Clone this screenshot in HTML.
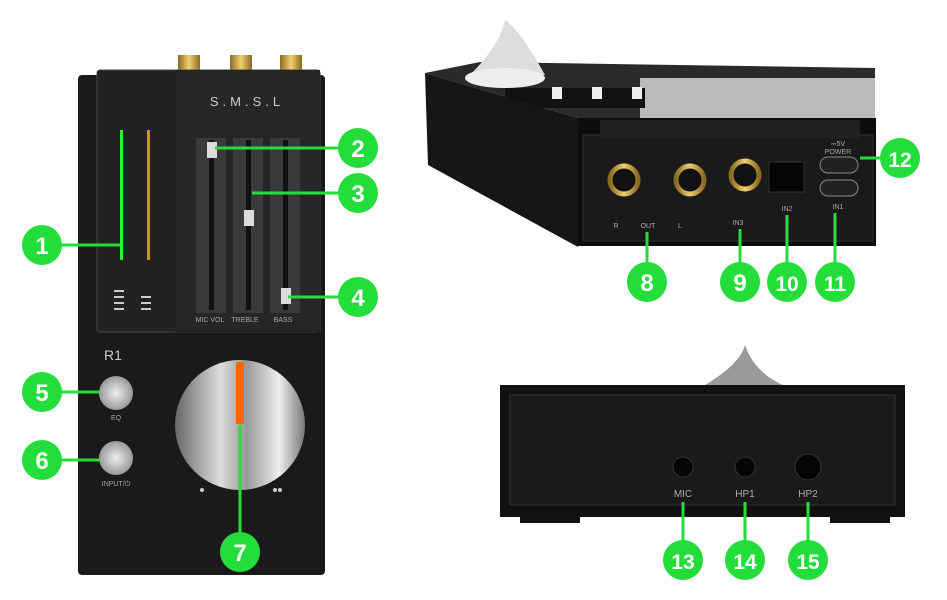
<!DOCTYPE html>
<html><head><style>
body{margin:0;background:#fff;}
svg{display:block;font-family:"Liberation Sans",sans-serif;}
.n{font-weight:bold;fill:#fff;font-size:24px;text-anchor:middle;}
.l{fill:#aaa;font-size:7px;text-anchor:middle;}
</style></head><body>
<svg width="947" height="600" viewBox="0 0 947 600">
<defs>
<linearGradient id="kn" x1="0" x2="1" y1="0" y2="0">
<stop offset="0" stop-color="#666"/><stop offset=".35" stop-color="#ddd"/><stop offset=".55" stop-color="#999"/><stop offset=".8" stop-color="#eee"/><stop offset="1" stop-color="#777"/></linearGradient>
<radialGradient id="bt"><stop offset="0" stop-color="#eee"/><stop offset="1" stop-color="#999"/></radialGradient>
<linearGradient id="gold" x1="0" x2="1"><stop offset="0" stop-color="#8a6a20"/><stop offset=".5" stop-color="#f0d070"/><stop offset="1" stop-color="#8a6a20"/></linearGradient>
</defs>
<rect x="178" y="55" width="22" height="22" fill="url(#gold)"/>
<rect x="230" y="55" width="22" height="22" fill="url(#gold)"/>
<rect x="280" y="55" width="22" height="22" fill="url(#gold)"/>
<rect x="78" y="75" width="247" height="500" rx="4" fill="#1a1a1a"/>
<rect x="97" y="70" width="223" height="262" rx="3" fill="#222" stroke="#444"/>
<rect x="175" y="70" width="145" height="262" fill="#262626"/>
<text x="247" y="106" fill="#ccc" font-size="13" text-anchor="middle" letter-spacing="4">S.M.S.L</text>
<rect x="120" y="130" width="3" height="130" fill="#2f2"/>
<rect x="147" y="130" width="3" height="130" fill="#c90"/>
<g fill="#ccc"><rect x="114" y="290" width="10" height="2"/><rect x="114" y="296" width="10" height="2"/><rect x="114" y="302" width="10" height="2"/><rect x="114" y="308" width="10" height="2"/><rect x="141" y="296" width="10" height="2"/><rect x="141" y="302" width="10" height="2"/><rect x="141" y="308" width="10" height="2"/></g>
<rect x="196" y="138" width="30" height="175" fill="#3a3a3a"/><rect x="233" y="138" width="30" height="175" fill="#3a3a3a"/><rect x="270" y="138" width="30" height="175" fill="#3a3a3a"/>
<rect x="209" y="140" width="5" height="170" fill="#111"/><rect x="246" y="140" width="5" height="170" fill="#111"/><rect x="283" y="140" width="5" height="170" fill="#111"/>
<rect x="207" y="142" width="10" height="16" fill="#ddd"/><rect x="244" y="210" width="10" height="16" fill="#ddd"/><rect x="281" y="288" width="10" height="16" fill="#ddd"/>
<text x="210" y="322" class="l">MIC VOL</text><text x="245" y="322" class="l">TREBLE</text><text x="283" y="322" class="l">BASS</text>
<text x="104" y="360" fill="#ccc" font-size="14">R1</text>
<circle cx="116" cy="393" r="17" fill="url(#bt)"/><text x="116" y="420" class="l">EQ</text>
<circle cx="116" cy="458" r="17" fill="url(#bt)"/><text x="116" y="486" class="l">INPUT/⏻</text>
<circle cx="240" cy="425" r="65" fill="url(#kn)"/>
<rect x="236" y="362" width="8" height="62" fill="#f60"/>
<circle cx="202" cy="490" r="2" fill="#ccc"/><circle cx="275" cy="490" r="2" fill="#ccc"/><circle cx="280" cy="490" r="2" fill="#ccc"/>
<polygon points="425,73 480,62 875,68 875,118 578,118" fill="#2a2a2a"/>
<polygon points="640,78 875,78 875,118 640,118" fill="#bbb"/>
<path d="M470,75 Q500,45 505,20 Q520,30 545,75 Z" fill="#ddd"/>
<ellipse cx="505" cy="78" rx="40" ry="10" fill="#eee"/>
<rect x="505" y="88" width="140" height="20" fill="#111"/>
<rect x="552" y="87" width="10" height="12" fill="#eee"/><rect x="592" y="87" width="10" height="12" fill="#eee"/><rect x="632" y="87" width="10" height="12" fill="#eee"/>
<polygon points="425,73 578,118 578,247 428,165" fill="#161616"/>
<rect x="578" y="118" width="298" height="128" fill="#0d0d0d"/>
<rect x="583" y="135" width="290" height="106" fill="#1a1a1a" stroke="#333"/>
<rect x="600" y="120" width="260" height="18" fill="#222"/>
<g fill="#111" stroke="url(#gold)" stroke-width="5"><circle cx="624" cy="180" r="14"/><circle cx="690" cy="180" r="14"/><circle cx="745" cy="175" r="14"/></g>
<rect x="769" y="162" width="35" height="30" fill="#050505" stroke="#333"/>
<rect x="820" y="157" width="38" height="16" rx="8" fill="#222" stroke="#888"/>
<rect x="820" y="180" width="38" height="16" rx="8" fill="#222" stroke="#888"/>
<text x="616" y="228" class="l">R</text><text x="648" y="228" class="l">OUT</text><text x="680" y="228" class="l">L</text><text x="738" y="225" class="l">IN3</text><text x="787" y="211" class="l">IN2</text><text x="838" y="209" class="l">IN1</text>
<text x="838" y="146" class="l" fill="#ccc">⎓5V</text><text x="838" y="154" class="l" fill="#ccc">POWER</text>
<path d="M700,388 Q740,365 745,345 Q755,375 790,388 Z" fill="#999"/>
<rect x="500" y="385" width="405" height="132" fill="#111"/>
<rect x="510" y="395" width="385" height="110" fill="#1a1a1a" stroke="#333"/>
<rect x="520" y="517" width="60" height="6" fill="#111"/><rect x="830" y="517" width="60" height="6" fill="#111"/>
<circle cx="683" cy="467" r="10" fill="#050505" stroke="#333"/><circle cx="745" cy="467" r="10" fill="#050505" stroke="#333"/><circle cx="808" cy="467" r="13" fill="#050505" stroke="#333"/>
<text x="683" y="497" fill="#aaa" font-size="10" text-anchor="middle">MIC</text><text x="745" y="497" fill="#aaa" font-size="10" text-anchor="middle">HP1</text><text x="808" y="497" fill="#aaa" font-size="10" text-anchor="middle">HP2</text>
<g stroke="#22dd3a" stroke-width="3" fill="none">
<path d="M42,245H120"/><path d="M358,148H215"/><path d="M358,193H252"/><path d="M358,297H288"/>
<path d="M42,392H100"/><path d="M42,460H100"/><path d="M240,552V425"/>
<path d="M647,282V232"/><path d="M740,282V229"/><path d="M787,282V215"/><path d="M835,282V213"/><path d="M900,158H860"/>
<path d="M683,560V502"/><path d="M745,560V502"/><path d="M808,560V502"/>
</g>
<g fill="#22dd3a">
<circle cx="42" cy="245" r="20"/><circle cx="358" cy="148" r="20"/><circle cx="358" cy="193" r="20"/><circle cx="358" cy="297" r="20"/><circle cx="42" cy="392" r="20"/><circle cx="42" cy="460" r="20"/><circle cx="240" cy="552" r="20"/>
<circle cx="647" cy="282" r="20"/><circle cx="740" cy="282" r="20"/><circle cx="787" cy="282" r="20"/><circle cx="835" cy="282" r="20"/><circle cx="900" cy="158" r="20"/>
<circle cx="683" cy="560" r="20"/><circle cx="745" cy="560" r="20"/><circle cx="808" cy="560" r="20"/>
</g>
<text x="42" y="254" class="n">1</text><text x="358" y="157" class="n">2</text><text x="358" y="202" class="n">3</text><text x="358" y="306" class="n">4</text><text x="42" y="401" class="n">5</text><text x="42" y="469" class="n">6</text><text x="240" y="561" class="n">7</text>
<text x="647" y="291" class="n">8</text><text x="740" y="291" class="n">9</text><text x="787" y="291" class="n" style="font-size:21px">10</text><text x="835" y="291" class="n" style="font-size:21px">11</text><text x="900" y="167" class="n" style="font-size:21px">12</text>
<text x="683" y="569" class="n" style="font-size:21px">13</text><text x="745" y="569" class="n" style="font-size:21px">14</text><text x="808" y="569" class="n" style="font-size:21px">15</text>
</svg>
</body></html>
